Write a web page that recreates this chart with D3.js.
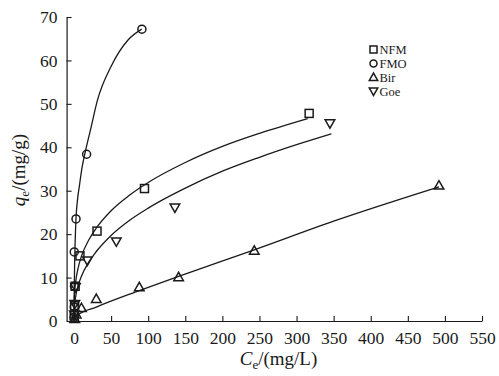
<!DOCTYPE html>
<html><head><meta charset="utf-8">
<script src="https://cdn.jsdelivr.net/npm/d3@7"></script>
<style>body{margin:0;background:#fff}svg{display:block}text{font-family:"Liberation Serif","Times New Roman",serif;fill:#1a1a1a}</style>
</head><body>
<svg id="c" width="499" height="376"></svg>
<script>
const series = ["NFM","FMO","Bir","Goe"];
const xTicks = [0,50,100,150,200,250,300,350,400,450,500,550];
const yTicks = [0,10,20,30,40,50,60,70];

// measured points
const nfmC = [0.3,0.8,1.5,8,31,95,317];
const nfmQ = [1.2,3.5,8.0,15.0,20.7,30.5,47.8];
const fmoC = [0.1,0.3,0.6,0.3,2.7,17,91.5];
const fmoQ = [0.8,3.2,8.0,15.9,23.5,38.4,67.2];
const birC = [1,3,10,30,88,141,243,492];
const birQ = [0.5,1.5,3.0,5.1,7.8,10.1,16.2,31.2];
const goeC = [0.5,1,2,18,57,136,345];
const goeQ = [1.5,3.9,7.8,13.9,18.3,26.1,45.5];

// fitted curves
const nfmFitC = [0,0.2,0.5,1,2,5,10,20,30,50,75,100,150,200,250,315];
const nfmFitQ = [0,4.1,5.5,6.95,8.7,11.8,14.9,18.7,21.4,25.4,29.0,31.9,36.5,40.2,43.2,46.6];
const fmoFitC = [0,0.3,0.8,1.5,2.7,4.7,7.4,10.8,15.5,22.2,31.7,49.9,72.8,91.3];
const fmoFitQ = [0,7,13,18,23.7,27.9,31.3,35.3,39.2,44.0,50.9,58.6,64.7,67.2];
const birFitC = [0,4,30,88,141,243,350,492];
const birFitQ = [0.3,1.2,3.2,7.0,10.3,16.4,23.0,30.9];
const goeFitC = [0,0.2,0.5,1,2,5,10,20,30,50,75,100,150,200,250,300,347];
const goeFitQ = [0,2.1,3.1,4.05,5.4,7.8,10.3,13.6,16.0,19.7,23.2,26.0,30.6,34.5,37.7,40.6,43.1];

const svg = d3.select("#c");
const x = d3.scaleLinear().domain([-10,550]).range([66.6,482]);
const y = d3.scaleLinear().domain([0,70]).range([321,17]);
const ink = "#1a1a1a";

// axes
const xa = svg.append("g").attr("transform",`translate(0,${y(0)})`)
  .call(d3.axisBottom(x).tickValues(xTicks).tickSizeInner(-5).tickSizeOuter(0).tickPadding(11).tickFormat(d3.format("d")));
const ya = svg.append("g").attr("transform",`translate(${x(-10)},0)`)
  .call(d3.axisLeft(y).tickValues(yTicks).tickSizeInner(-5).tickSizeOuter(0).tickPadding(9).tickFormat(d3.format("d")));
[xa,ya].forEach(g=>{
  g.select(".domain").attr("stroke",ink).attr("stroke-width",1.2);
  g.selectAll(".tick line").attr("stroke",ink).attr("stroke-width",1.1);
  g.selectAll(".tick text").attr("fill",ink).style("font-size","17.5px").style("font-family",'"Liberation Serif",serif');
});

// curves
const line = d3.line().x(d=>x(d[0])).y(d=>y(d[1])).curve(d3.curveMonotoneX);
const fits = [[nfmFitC,nfmFitQ],[fmoFitC,fmoFitQ],[birFitC,birFitQ],[goeFitC,goeFitQ]];
fits.forEach(([c,q])=>{
  svg.append("path").datum(c.map((v,i)=>[v,q[i]])).attr("d",line)
    .attr("fill","none").attr("stroke",ink).attr("stroke-width",1.3);
});

// markers
function marker(g, type, cx, cy, s){
  const sw = 1.5;
  if(type==="NFM") g.append("rect").attr("x",cx-s/2).attr("y",cy-s/2).attr("width",s).attr("height",s);
  else if(type==="FMO") g.append("circle").attr("cx",cx).attr("cy",cy).attr("r",s/2);
  else if(type==="Bir") g.append("path").attr("d",`M${cx-s*0.6},${cy+s*0.45}L${cx+s*0.6},${cy+s*0.45}L${cx},${cy-s*0.6}Z`);
  else g.append("path").attr("d",`M${cx-s*0.6},${cy-s*0.45}L${cx+s*0.6},${cy-s*0.45}L${cx},${cy+s*0.6}Z`);
  g.selectAll("*").attr("fill","none").attr("stroke",ink).attr("stroke-width",sw);
}
const pts = {NFM:[nfmC,nfmQ],FMO:[fmoC,fmoQ],Bir:[birC,birQ],Goe:[goeC,goeQ]};
series.forEach(s=>{
  const [c,q] = pts[s];
  c.forEach((v,i)=>{ marker(svg.append("g"), s, x(v), y(q[i]), 8); });
});

// legend
series.forEach((s,i)=>{
  const ly = 49.5 + i*13.9;
  marker(svg.append("g"), s, 373.5, ly, 7);
  svg.append("text").attr("x",379.5).attr("y",ly+4.5).style("font-size","12.5px").text(s);
});

// axis titles
const xt = svg.append("text").attr("x",278.5).attr("y",365).attr("text-anchor","middle").style("font-size","19px");
xt.append("tspan").style("font-style","italic").text("C");
xt.append("tspan").attr("dy",4).style("font-size","13px").text("e");
xt.append("tspan").attr("dy",-4).text("/(mg/L)");
const yt = svg.append("text").attr("transform","translate(25,170) rotate(-90)").attr("text-anchor","middle").style("font-size","19px");
yt.append("tspan").style("font-style","italic").text("q");
yt.append("tspan").attr("dy",4).style("font-size","13px").text("e");
yt.append("tspan").attr("dy",-4).text("/(mg/g)");
</script>
</body></html>
